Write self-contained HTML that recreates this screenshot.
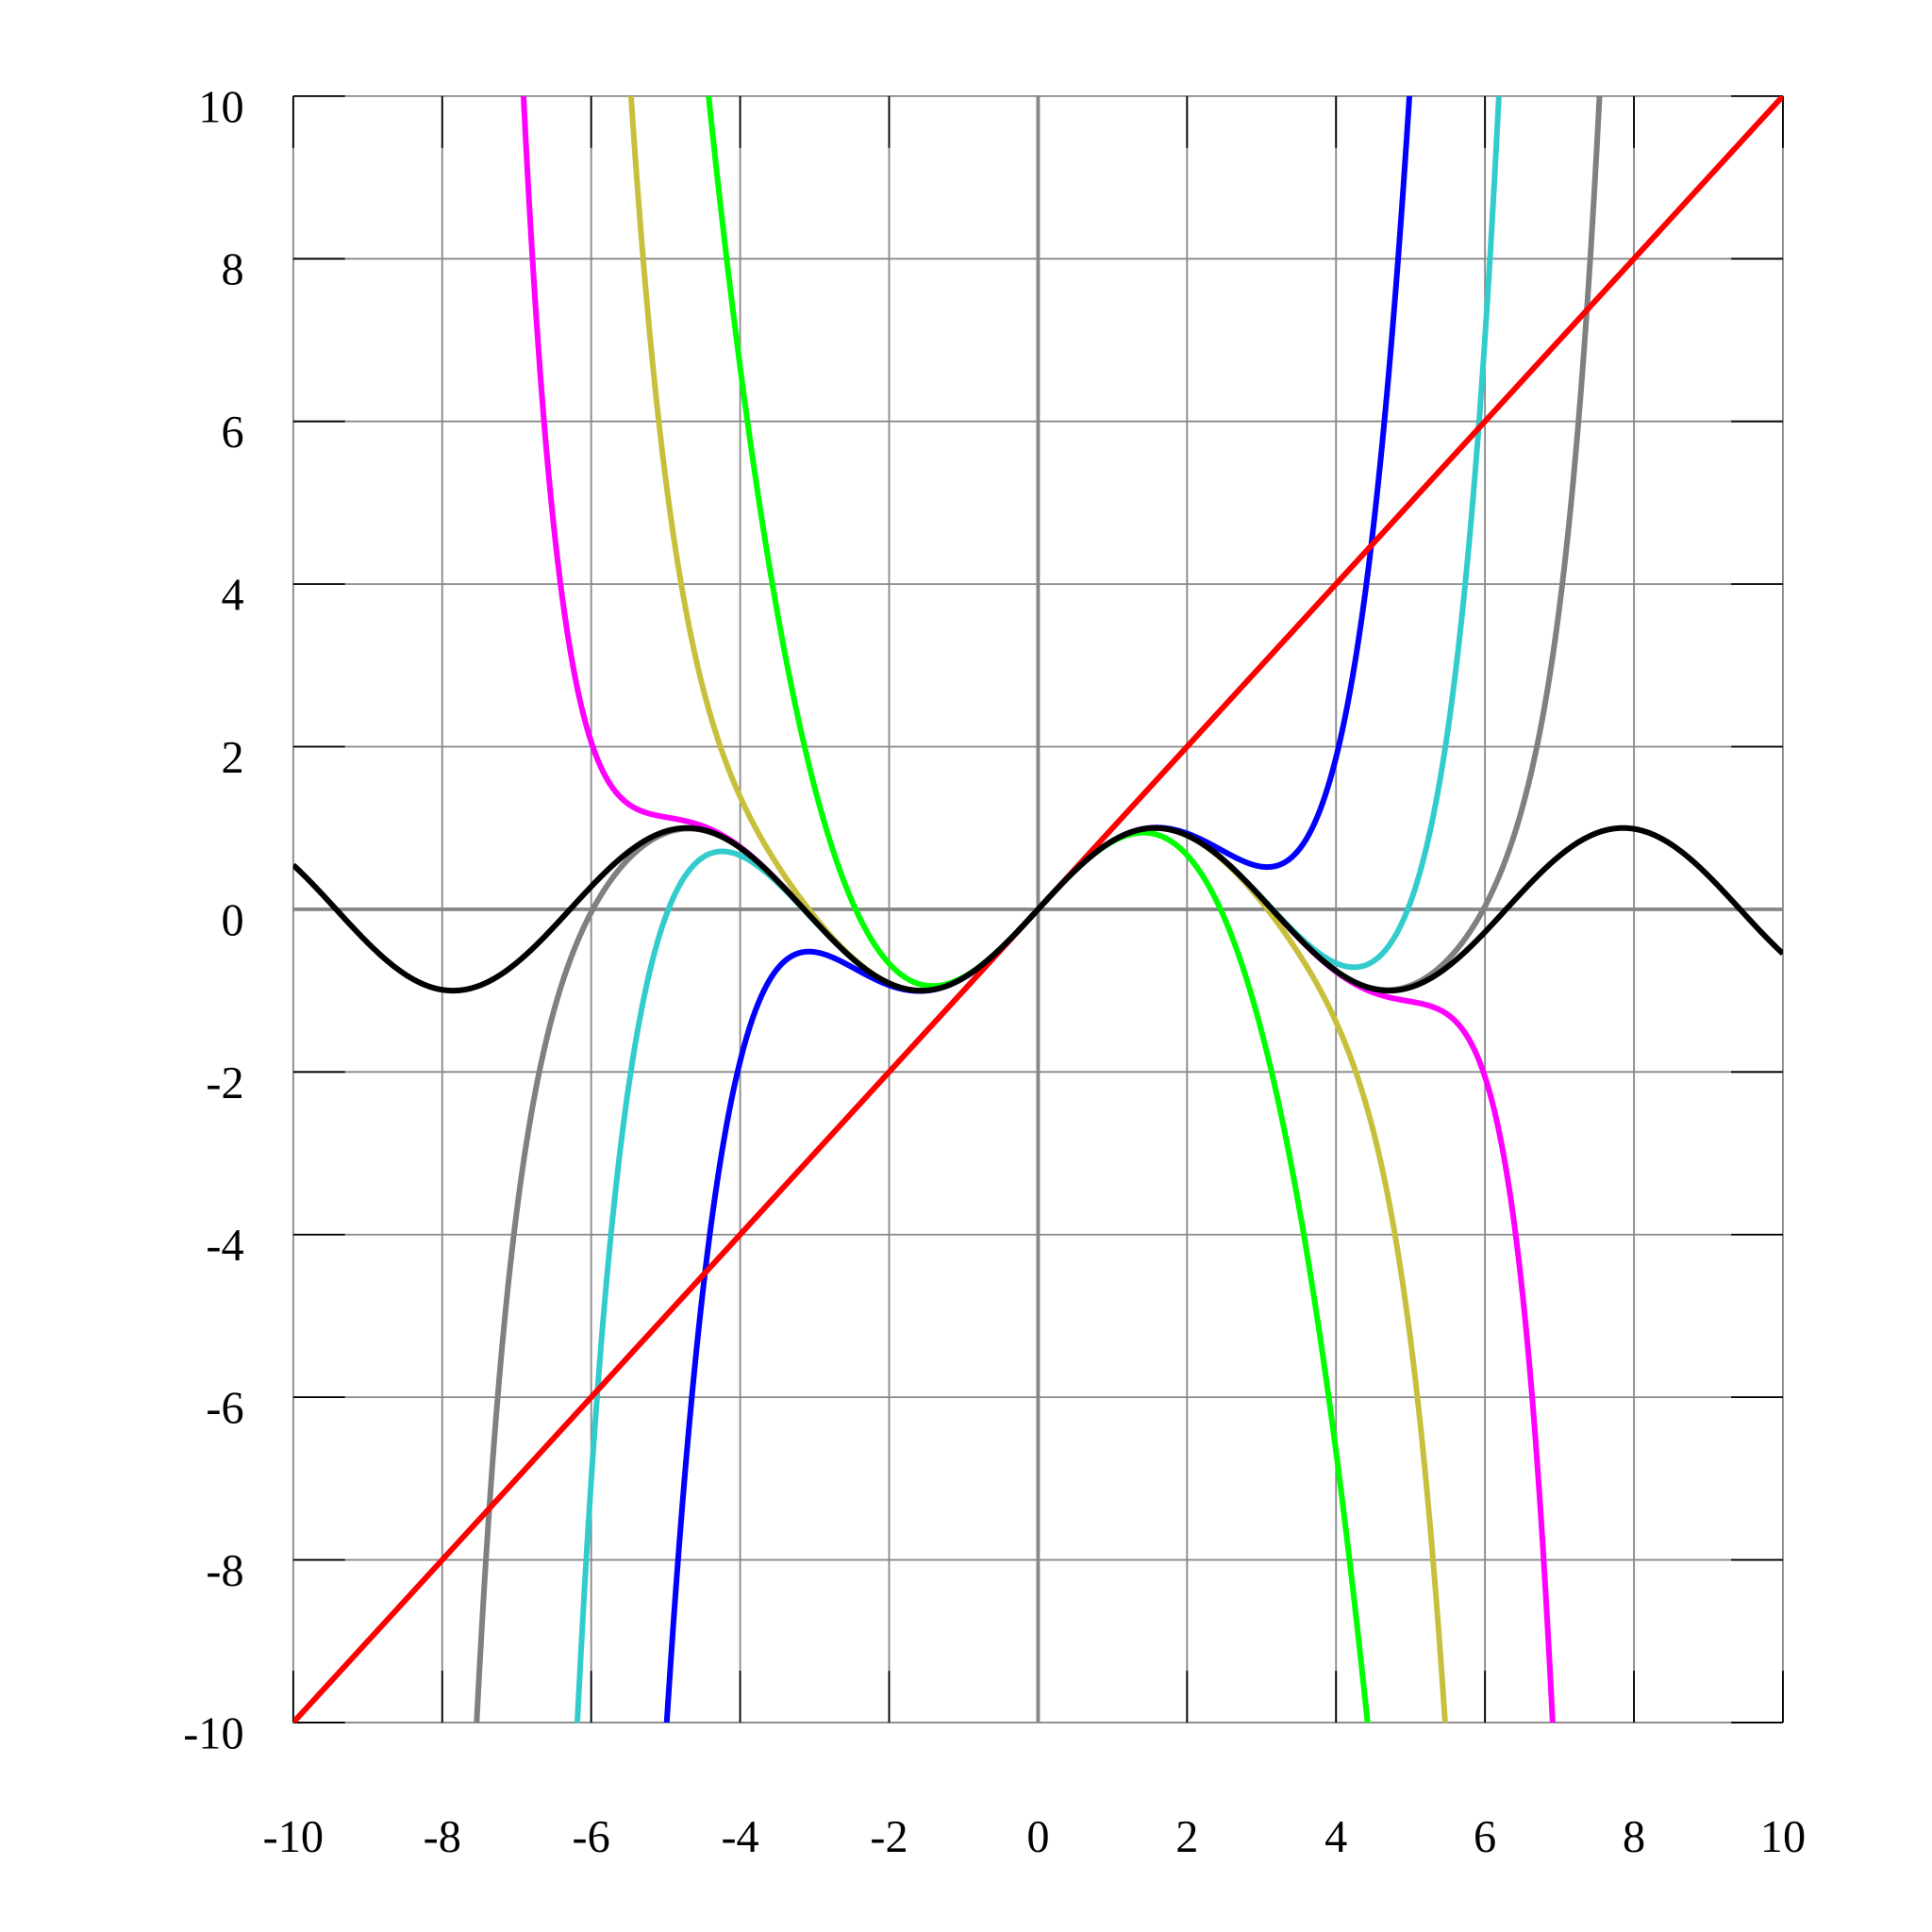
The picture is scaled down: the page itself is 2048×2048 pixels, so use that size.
<!DOCTYPE html>
<html><head><meta charset="utf-8"><style>html,body{margin:0;padding:0;background:#fff;width:2048px;height:2048px;overflow:hidden}svg{display:block}</style></head>
<body>
<svg id="s" width="2048" height="2048" viewBox="0 0 1568 1568" xmlns="http://www.w3.org/2000/svg" font-family="Liberation Serif, serif" font-size="37">
<defs><clipPath id="c"><rect x="238" y="78" width="1209" height="1320"/></clipPath></defs>
<g id="grid" stroke="#888" stroke-width="1.4" fill="none"></g>
<g id="ticks" stroke="#000" stroke-width="1.4"></g>
<g id="axes" stroke="#888" stroke-width="3"><line x1="842.5" y1="78" x2="842.5" y2="1398"/><line x1="238" y1="738" x2="1447" y2="738"/></g>
<g id="curves" clip-path="url(#c)" fill="none" stroke-width="4.6" stroke-linejoin="round"></g>
<g id="labels"></g>
</svg>
<script>
var NS="http://www.w3.org/2000/svg";
function X(x){return 238+(x+10)*1209/20}
function Y(y){return 78+(10-y)*1320/20}
function el(p,t,a,txt){var e=document.createElementNS(NS,t);for(var k in a)e.setAttribute(k,a[k]);if(txt!=null)e.textContent=txt;p.appendChild(e);return e}
var g=document.getElementById('grid'),tk=document.getElementById('ticks'),lb=document.getElementById('labels'),cv=document.getElementById('curves');
for(var v=-10;v<=10;v+=2){
 el(g,'line',{x1:X(v),y1:78,x2:X(v),y2:1398});
 el(g,'line',{x1:238,y1:Y(v),x2:1447,y2:Y(v)});
 el(tk,'line',{x1:X(v),y1:78,x2:X(v),y2:120});
 el(tk,'line',{x1:X(v),y1:1398,x2:X(v),y2:1356});
 el(tk,'line',{x1:238,y1:Y(v),x2:280,y2:Y(v)});
 el(tk,'line',{x1:1447,y1:Y(v),x2:1405,y2:Y(v)});
 el(lb,'text',{x:X(v),y:1503,'text-anchor':'middle'},String(v));
 el(lb,'text',{x:198,y:Y(v)+21,'text-anchor':'end'},String(v));
}
function taylor(n){return function(x){var s=0,t=x;for(var k=1;k<=n;k+=2){s+=t;t*=-x*x/((k+1)*(k+2));}return s}}
var series=[[taylor(13),'#808080'],[taylor(11),'#ff00ff'],[taylor(9),'#33cccc'],[taylor(7),'#c8c03c'],[taylor(5),'#0000ff'],[taylor(3),'#00ff00'],[taylor(1),'#ff0000'],[Math.sin,'#000']];
series.forEach(function(s){var d='';for(var i=0;i<=4000;i++){var x=-10+20*i/4000;var y=s[0](x);y=Math.max(-30,Math.min(30,y));d+=(i?'L':'M')+X(x).toFixed(2)+' '+Y(y).toFixed(2);}el(cv,'path',{d:d,stroke:s[1]});});
</script>
</body></html>
